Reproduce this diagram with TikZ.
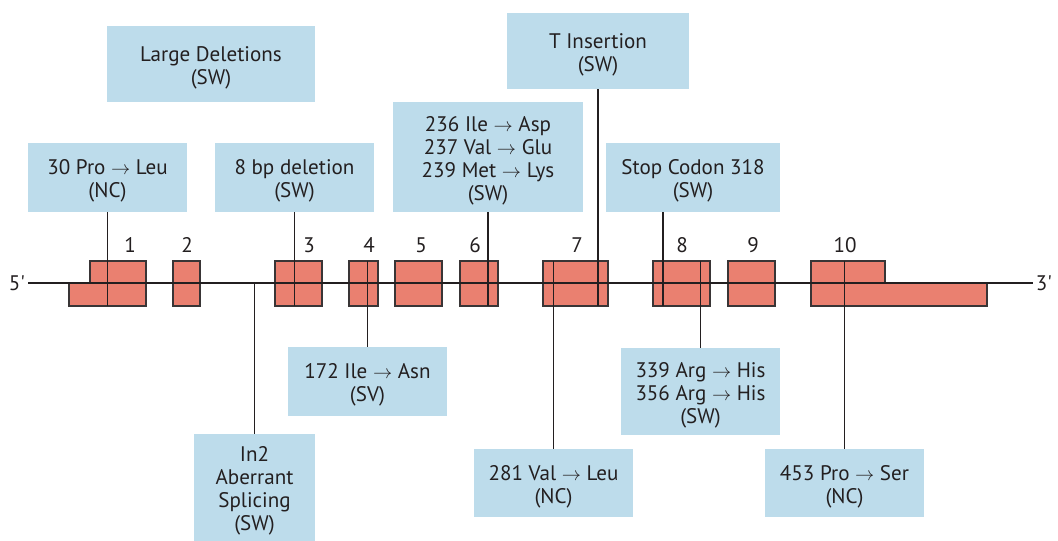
\documentclass[tikz,border=0pt]{standalone}
\usepackage{fontspec}
\setmainfont{PT Sans}
\newfontfamily\primefont{PT Sans}
\usetikzlibrary{positioning}
\definecolor{boxblue}{HTML}{BDDCEB}
\definecolor{exonred}{HTML}{EA8070}
\definecolor{inkgray}{HTML}{231F20}

\begin{document}
\begin{tikzpicture}[
x=0.75pt, y=-0.75pt,
font=\fontsize{15.8}{17.3}\selectfont,
mutlabel/.style={text=inkgray, align=center, inner sep=0pt, yshift=-2.6pt},
mutbox/.style={fill=boxblue, inner sep=0pt, label={[mutlabel]center:#1}},
wh/.style 2 args={minimum width=#1*0.75pt, minimum height=#2*0.75pt},
exon/.style={fill=exonred, draw=inkgray!90, line width=0.8pt},
tick/.style={draw=inkgray, line width=0.9pt}
]
\useasboundingbox (0,0) rectangle (1058,541);
\coordinate (dna) at (0,283);
\coordinate (exontop) at (0,261);
\coordinate (exonbot) at (0,306);

% exons
\draw[exon] (69,306) -- (69,283) -- (90,283) -- (90,261) -- (146,261) -- (146,306) -- cycle;
\foreach \a/\b in {173/200, 275/322, 349/378, 395/442, 460/498, 543/608, 653/710, 728/775}
  \draw[exon] (\a,261) rectangle (\b,306);
\draw[exon] (811,261) -- (885,261) -- (885,283) -- (987,283) -- (987,306) -- (811,306) -- cycle;
\foreach \n/\x in {1/130, 2/187, 3/309, 4/369, 5/421, 6/475, 7/577, 8/682, 9/753, 10/845}
  \node[text=inkgray] (num\n) at (\x,245) {\n};

% strand
\node[text=inkgray, anchor=east, inner sep=2pt] (fivep) at (28,283) {\primefont 5'};
\node[text=inkgray, anchor=west, inner sep=2pt] (threep) at (1033,283) {\primefont 3'};
\draw[tick] (fivep) -- (threep);

% mutations above
\node[mutbox={Large Deletions\\(SW)}, wh={208}{76}] (largedel) at (211,64) {};
\node[mutbox={30 Pro $\rightarrow$ Leu\\(NC)}, wh={159}{69}] (pro30) at (107.5,177.5) {};
\node[mutbox={8 bp deletion\\(SW)}, wh={159}{69}] (del8) at (294.5,177.5) {};
\node[mutbox={236 Ile $\rightarrow$ Asp\\237 Val $\rightarrow$ Glu\\239 Met $\rightarrow$ Lys\\(SW)}, wh={190}{110}] (ile236) at (488,157) {};
\node[mutbox={T Insertion\\(SW)}, wh={182}{76}] (tins) at (598,51) {};
\node[mutbox={Stop Codon 318\\(SW)}, wh={174}{69}] (stop318) at (693,177.5) {};

% mutations below
\node[mutbox={172 Ile $\rightarrow$ Asn\\(SV)}, wh={159}{69}] (ile172) at (367.5,381.5) {};
\node[mutbox={In2\\Aberrant\\Splicing\\(SW)}, wh={121}{107}] (in2) at (254.5,487.5) {};
\node[mutbox={281 Val $\rightarrow$ Leu\\(NC)}, wh={159}{68}] (val281) at (553.5,483) {};
\node[mutbox={339 Arg $\rightarrow$ His\\356 Arg $\rightarrow$ His\\(SW)}, wh={159}{87}] (arg339) at (700.5,391.5) {};
\node[mutbox={453 Pro $\rightarrow$ Ser\\(NC)}, wh={159}{68}] (pro453) at (844.5,483) {};

% pointers
\draw[tick] (pro30) -- (pro30 |- exonbot);
\draw[tick] (del8) -- (del8 |- exonbot);
\draw[tick] (ile236) -- (ile236 |- exonbot);
\draw[tick] (tins) -- (tins |- exonbot);
\draw[tick] ([xshift=-22.5pt]stop318.south) -- ([xshift=-22.5pt]stop318.south |- exonbot);
\draw[tick] (in2) -- (in2 |- dna);
\draw[tick] (ile172) -- (ile172 |- exontop);
\draw[tick] (val281) -- (val281 |- exontop);
\draw[tick] (arg339) -- (arg339 |- exontop);
\draw[tick] (pro453) -- (pro453 |- exontop);
\end{tikzpicture}
\end{document}
